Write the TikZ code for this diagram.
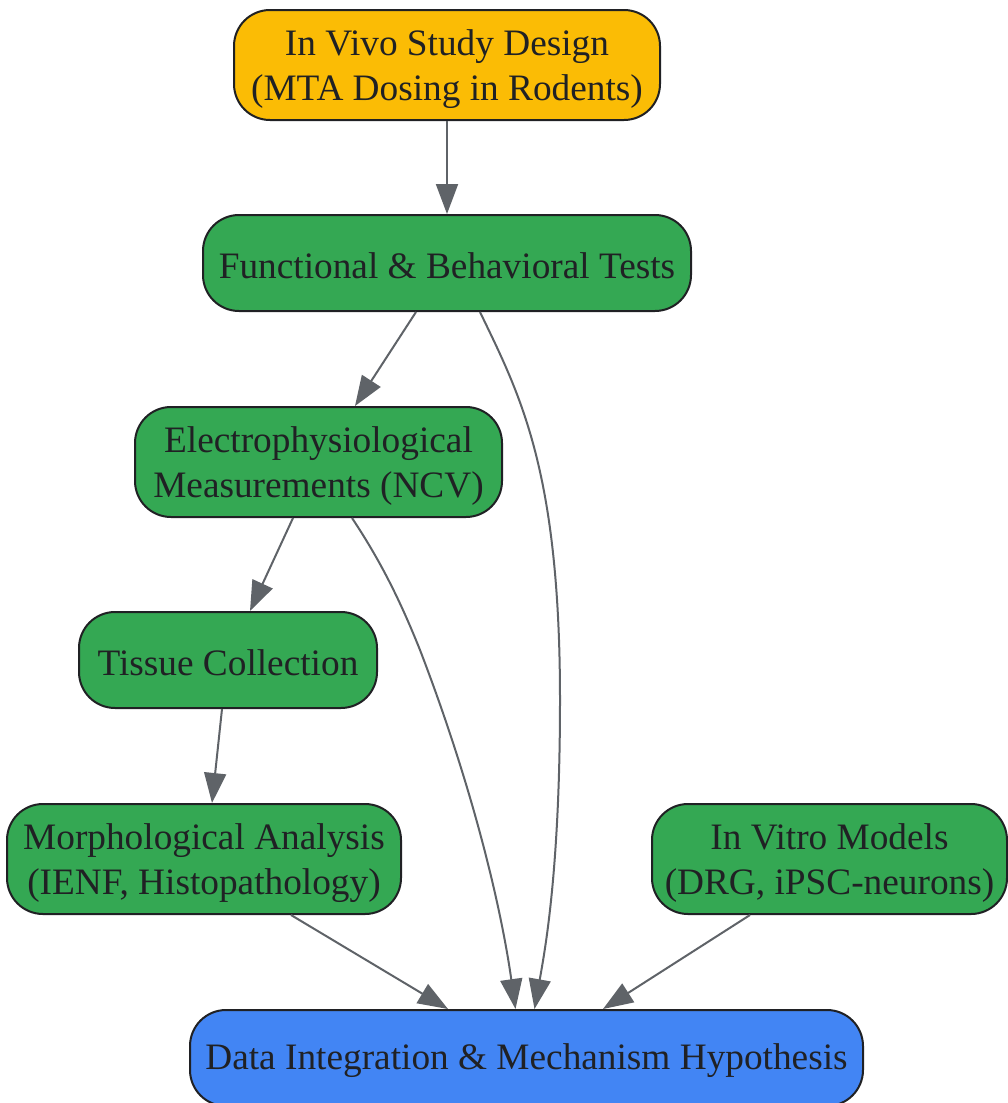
\documentclass[tikz,border=0pt]{standalone}
\usepackage{fontspec}
\setmainfont{Liberation Serif}
\usetikzlibrary{arrows.meta}
\definecolor{cyellow}{HTML}{FBBC05}
\definecolor{cgreen}{HTML}{34A853}
\definecolor{cblue}{HTML}{4285F4}
\definecolor{ctext}{HTML}{202124}
\definecolor{cedge}{HTML}{5F6368}
\begin{document}
\begin{tikzpicture}[x=1pt,y=-1pt,
  box/.style={draw=ctext, line width=2pt, rounded corners=36pt, inner sep=0pt},
  txt/.style={text=ctext, font=\fontsize{37.3}{44.5}\selectfont, align=center, inner sep=0pt},
  conn/.style={draw=cedge, line width=2pt,
    -{Triangle[length=30pt,width=22pt,fill=cedge]}}]
\useasboundingbox (0,0) rectangle (1007,1103);
\node[box, fill=cyellow, minimum width=426pt, minimum height=110pt] (a) at (447,65) {};
\node[txt] (ta) at (447,69) {In Vivo Study Design\\(MTA Dosing in Rodents)};
\node[box, fill=cgreen, minimum width=488pt, minimum height=96pt] (b) at (447,263) {};
\node[txt] (tb) at (447,266) {Functional \& Behavioral Tests};
\node[box, fill=cgreen, minimum width=367pt, minimum height=110pt] (c) at (318.5,462) {};
\node[txt] (tc) at (318.5,466) {Electrophysiological\\Measurements (NCV)};
\node[box, fill=cgreen, minimum width=298pt, minimum height=96pt] (d) at (228,660) {};
\node[txt] (td) at (228,663) {Tissue Collection};
\node[box, fill=cgreen, minimum width=394pt, minimum height=110pt] (e) at (204,859) {};
\node[txt] (te) at (204,863) {Morphological Analysis\\(IENF, Histopathology)};
\node[box, fill=cgreen, minimum width=355pt, minimum height=110pt] (f) at (829.5,859) {};
\node[txt] (tf) at (829.5,863) {In Vitro Models\\(DRG, iPSC-neurons)};
\node[box, fill=cblue, minimum width=673pt, minimum height=96pt] (g) at (526.5,1058) {};
\node[txt] (tg) at (526.5,1061) {Data Integration \& Mechanism Hypothesis};
\draw[conn] (a.south) -- (b.north);
\draw[conn] ([xshift=-31pt]b.south) -- (355,406);
\draw[conn] ([xshift=33pt]b.south) .. controls (520,395) and (560,470) .. (560,700) .. controls (560,870) and (545,950) .. ([xshift=8pt]g.north);
\draw[conn] ([xshift=-25.5pt]c.south) -- (250,611);
\draw[conn] ([xshift=33.5pt]c.south) .. controls (380,560) and (400,600) .. (420,650) .. controls (470,780) and (500,900) .. ([xshift=-11pt]g.north);
\draw[conn] ([xshift=-6pt]d.south) -- (212,803);
\draw[conn] ([xshift=87pt]e.south) -- (448,1009);
\draw[conn] ([xshift=-79.5pt]f.south) -- (603,1009);
\end{tikzpicture}
\end{document}
